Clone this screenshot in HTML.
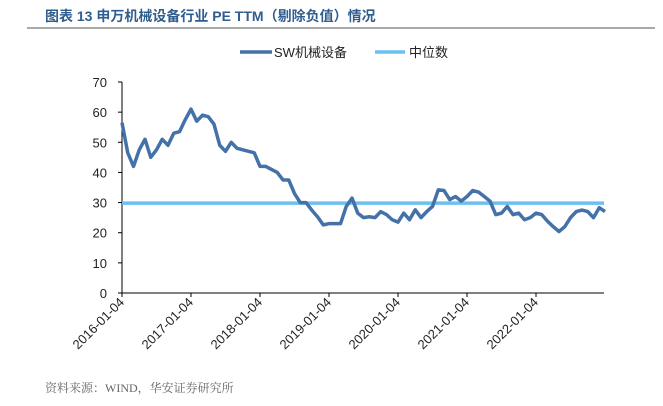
<!DOCTYPE html>
<html><head><meta charset="utf-8"><style>
body{margin:0;background:#fff;width:663px;height:401px;overflow:hidden;font-family:"Liberation Sans","Noto Sans CJK SC",sans-serif}
</style></head><body>
<svg width="663" height="401" xmlns="http://www.w3.org/2000/svg">
<text x="45" y="21" font-size="14" font-weight="bold" fill="#2f5d8e" font-family="Liberation Sans, Noto Sans CJK SC, sans-serif">图表 13 申万机械设备行业 PE TTM（剔除负值）情况</text>
<line x1="27" y1="28" x2="655" y2="28" stroke="#555" stroke-width="1"/>
<g>
<line x1="240" y1="52" x2="272" y2="52" stroke="#4472a8" stroke-width="3.5"/>
<text x="274" y="57" font-size="13" fill="#222">SW机械设备</text>
<line x1="375" y1="52" x2="405" y2="52" stroke="#6cc0f0" stroke-width="3.5"/>
<text x="409" y="57" font-size="13" fill="#222">中位数</text>
</g>
<g id="axes"></g>
<g id="marks"></g>
<text x="45" y="392" font-size="12" fill="#666" font-family="Liberation Serif, Noto Serif CJK SC, serif">资料来源：WIND，华安证券研究所</text>
</svg>
<script>
const yTicks=[0,10,20,30,40,50,60,70];
const xTickLabels=["2016-01-04","2017-01-04","2018-01-04","2019-01-04","2020-01-04","2021-01-04","2022-01-04"];
const xTickMonths=[0,12,24,36,48,60,72];
const peValues=[56.5,46.5,42,47.5,51,45,47.5,51,49,53,53.5,57.5,61,57,59,58.5,56,49,47,50,48,47.5,47,46.5,42,42,41,40,37.5,37.5,33,30,30,27.5,25.3,22.6,23,23,23,28.7,31.5,26.5,25,25.3,25,27,26,24.3,23.5,26.5,24.3,27.6,25,27,28.7,34.2,34,31,32,30.5,32,34,33.5,32,30.5,26,26.5,28.7,26,26.5,24.3,25,26.5,26,23.8,22,20.4,22,25,27,27.5,27,25,28.3,27];
const medianValue=[29.8];
const NS="http://www.w3.org/2000/svg";
const x0=122,x1=604,y0=293,y1=82;
const xs=m=>x0+m*5.75;
const ys=v=>y0-(v/70)*(y0-y1);
const axes=document.getElementById('axes'),marks=document.getElementById('marks');
function mk(tag,attrs,parent){const e=document.createElementNS(NS,tag);for(const k in attrs)e.setAttribute(k,attrs[k]);parent.appendChild(e);return e;}
let a=mk('line',{x1:x0,y1:y1,x2:x0,y2:y0,stroke:'#000','stroke-width':1},axes);


a=mk('line',{x1:x0,y1:y0,x2:x1,y2:y0,stroke:'#000','stroke-width':1},axes);


yTicks.forEach(v=>{
 const t=mk('line',{x1:x0-4,y1:ys(v),x2:x0,y2:ys(v),stroke:'#000'},axes);
 
 
 const l=mk('text',{x:x0-15,y:ys(v)+5,'text-anchor':'end','font-size':13,fill:'#222'},axes);
 l.textContent=v;
 
 
});
xTickMonths.forEach((m,i)=>{
 const x=xs(m);
 const t=mk('line',{x1:x,y1:y0,x2:x,y2:y0+4,stroke:'#000'},axes);
 
 
 const l=mk('text',{x:x+3,y:y0+10,'text-anchor':'end','font-size':13,fill:'#222',transform:`rotate(-45 ${x+3} ${y0+10})`},axes);
 l.textContent=xTickLabels[i];
 
 
});
const med=mk('line',{x1:x0,y1:ys(medianValue[0]),x2:x1,y2:ys(medianValue[0]),stroke:'#6cc0f0','stroke-width':3.5},marks);


const p=mk('polyline',{points:peValues.map((v,i)=>xs(i)+','+ys(v)).join(' '),fill:'none',stroke:'#4472a8','stroke-width':3.5,'stroke-linejoin':'round'},marks);


</script>
</body></html>
